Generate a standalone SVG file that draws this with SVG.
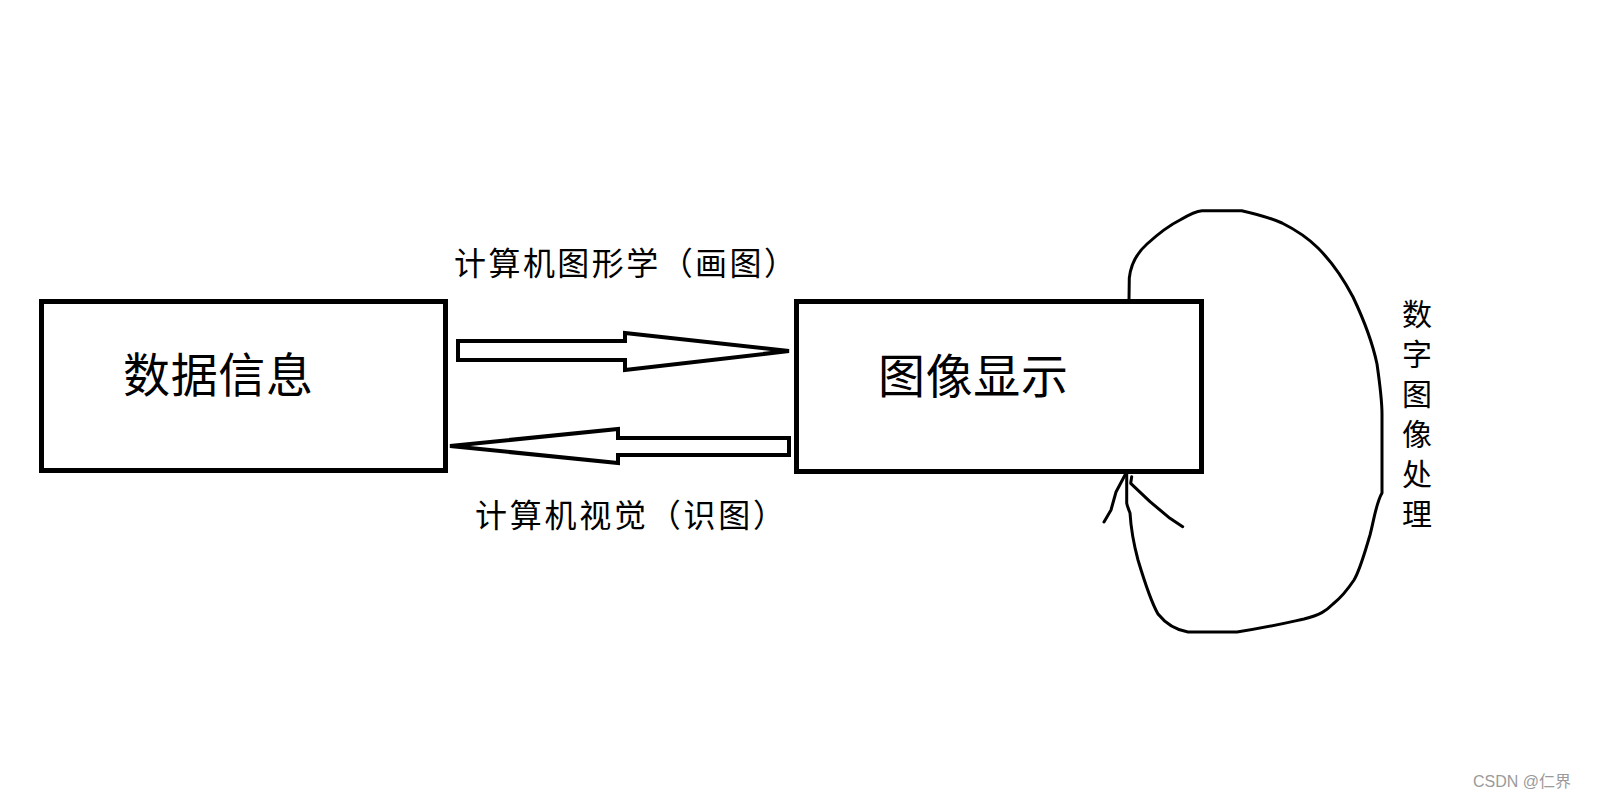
<svg xmlns="http://www.w3.org/2000/svg" width="1600" height="800" viewBox="0 0 1600 800">
  <style>
    .box { fill: #ffffff; stroke: #000000; stroke-width: 5; }
    .arrow { fill: #ffffff; stroke: #000000; stroke-width: 4; stroke-linejoin: miter; }
    .stroke { fill: none; stroke: #000000; stroke-width: 3; stroke-linejoin: round; stroke-linecap: round; }
    .t { font-family: "Noto Sans CJK SC", "Noto Sans", sans-serif; fill: #000000; }
    .big { font-size: 47px; }
    .lbl { font-size: 32px; }
    .vert { font-size: 30px; text-anchor: middle; }
    .wm { font-family: "Liberation Sans", "Noto Sans CJK SC", sans-serif; font-size: 16px; fill: #9a9a9a; }
  </style>
  <rect x="0" y="0" width="1600" height="800" fill="#ffffff"/>

  <g id="node-data">
    <rect class="box" x="41.5" y="301.5" width="404" height="169"/>
    <text class="t big" x="123" y="392" textLength="190" lengthAdjust="spacing">数据信息</text>
  </g>

  <g id="node-display">
    <rect class="box" x="796.5" y="301.5" width="405" height="170"/>
    <text class="t big" x="878" y="393" textLength="190" lengthAdjust="spacing">图像显示</text>
  </g>

  <g id="connectors">
    <polygon class="arrow" points="458,341 625,341 625,333 789,351 625,370 625,360 458,360"/>
    <polygon class="arrow" points="789,438 618,438 618,429 450,446 618,463 618,455 789,455"/>
    <path class="stroke" d="M1129,300 L1129.3,278 C1131,262 1138,252 1147,244 C1158,234 1168,226 1180,220 C1190,214 1196,211 1202,210.7 L1241.7,210.7 C1252,213 1268,217 1282,223 C1296,230 1308,238 1318,248 C1330,260 1342,276 1353,297 C1362,316 1372,340 1377,364 C1380,385 1382,400 1382,414 L1382,493 C1376,503 1374,520 1370,535 C1364,555 1360,570 1354,580 C1346,592 1338,600 1333,604 C1326,611 1320,615 1304,619 C1290,622 1270,627 1237,632 L1188,632 C1176,630 1166,624 1158,614 C1150,600 1144,580 1138,560 C1134,545 1131,530 1130,513 C1128,508 1127,505 1126.7,503 L1126.7,474"/>
    <path class="stroke" d="M1125,475 L1116,492 L1111,510 L1104,522"/>
    <path class="stroke" d="M1131.7,476.7 L1130.7,483.3 L1150,501.7 L1170,518.3 L1182.7,526.7"/>
  </g>

  <g id="labels">
    <text class="t lbl" x="454" y="275" textLength="342" lengthAdjust="spacing">计算机图形学（画图）</text>
    <text class="t lbl" x="475" y="527" textLength="310" lengthAdjust="spacing">计算机视觉（识图）</text>
    <text class="t vert" x="1417" y="325">数</text>
    <text class="t vert" x="1417" y="365">字</text>
    <text class="t vert" x="1417" y="405">图</text>
    <text class="t vert" x="1417" y="445">像</text>
    <text class="t vert" x="1417" y="485">处</text>
    <text class="t vert" x="1417" y="525">理</text>
  </g>

  <text class="wm" x="1473" y="787">CSDN @仁界</text>
</svg>
